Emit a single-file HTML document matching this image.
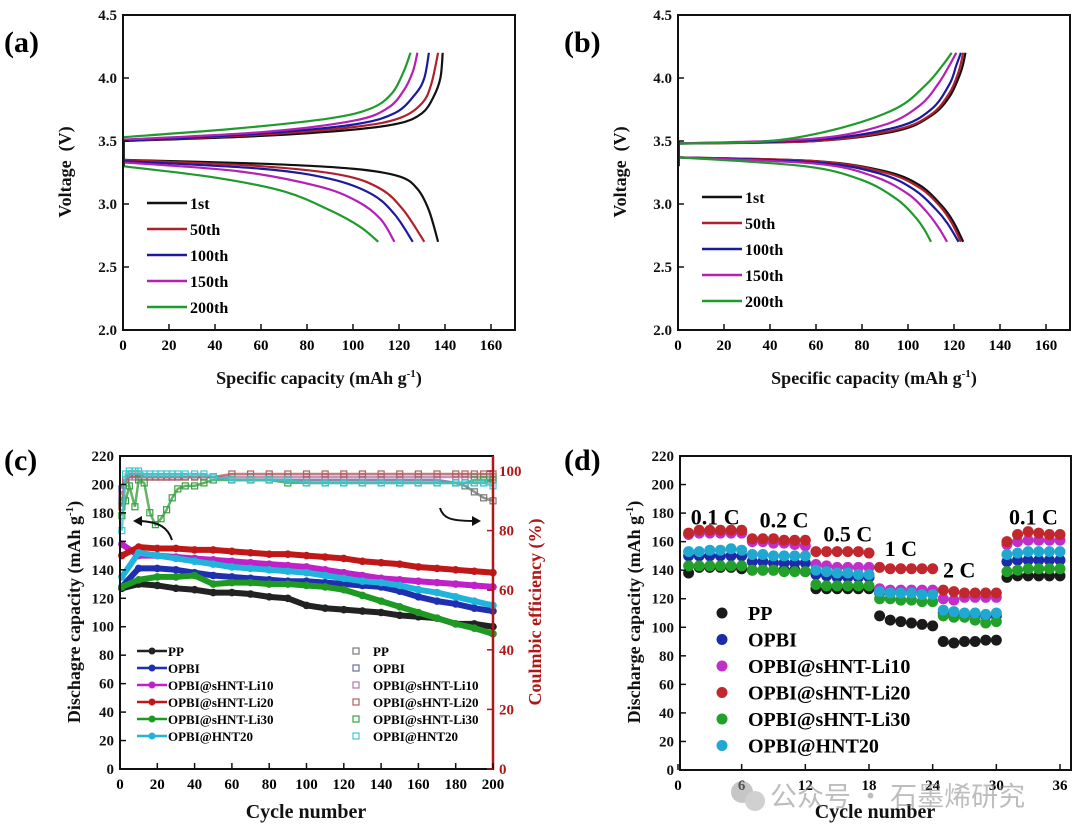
<!DOCTYPE html>
<html><head><meta charset="utf-8"><style>
body{margin:0;background:#fff;}
svg{display:block;font-family:"Liberation Serif","Noto Serif CJK SC",serif;font-weight:bold;}
</style></head><body>
<svg id="fig" width="1080" height="838" viewBox="0 0 1080 838" xmlns="http://www.w3.org/2000/svg">
<text x="4" y="52" font-size="30">(a)</text>
<text x="564" y="52" font-size="30">(b)</text>
<text x="4" y="470" font-size="30">(c)</text>
<text x="564" y="470" font-size="30">(d)</text>
<g id="ga"></g>
<g id="gb"></g>
<g id="gc"></g>
<g id="gd"></g>
<g opacity="0.55">
<circle cx="742" cy="792" r="11" fill="#999"/><circle cx="755" cy="801" r="10" fill="#aaa"/>
<text x="770" y="806" font-size="27" font-weight="normal" fill="#888" style='font-family:"Noto Sans CJK SC",sans-serif'>公众号 · 石墨烯研究</text>
</g>
</svg>
<script>
const NS="http://www.w3.org/2000/svg";
function mk(p,t,a){const e=document.createElementNS(NS,t);for(const k in a)e.setAttribute(k,a[k]);p.appendChild(e);return e;}
// ---------- data: panel a ----------
const aLabels=["1st","50th","100th","150th","200th"];
const aColors=["#111","#b0202a","#1a1a9e","#b420b4","#1f9a2c"];
const aCharge=[
[[0,3.50],[60,3.54],[100,3.59],[120,3.64],[130,3.72],[135,3.85],[138,4.0],[139,4.2]],
[[0,3.50],[60,3.55],[100,3.61],[120,3.68],[130,3.80],[134,3.95],[137,4.2]],
[[0,3.50],[60,3.56],[100,3.63],[118,3.72],[127,3.87],[131,4.0],[133,4.2]],
[[0,3.51],[60,3.57],[100,3.66],[115,3.76],[122,3.9],[126,4.05],[128,4.2]],
[[0,3.53],[50,3.60],[90,3.68],[108,3.76],[117,3.88],[122,4.05],[125,4.2]]];
const aDis=[
[[0,3.35],[60,3.32],[100,3.28],[120,3.22],[128,3.12],[133,2.95],[137,2.7]],
[[0,3.35],[60,3.30],[95,3.23],[112,3.12],[122,2.95],[131,2.7]],
[[0,3.34],[60,3.28],[90,3.20],[108,3.08],[118,2.92],[126,2.7]],
[[0,3.33],[50,3.26],[85,3.14],[102,3.02],[112,2.88],[118,2.7]],
[[0,3.30],[40,3.21],[70,3.10],[90,2.95],[103,2.82],[111,2.7]]];
// ---------- data: panel b ----------
const bCharge=[
[[0,3.48],[60,3.50],[95,3.58],[110,3.70],[118,3.85],[123,4.05],[125,4.2]],
[[0,3.48],[60,3.50],[95,3.59],[110,3.71],[118,3.88],[122,4.05],[124,4.2]],
[[0,3.48],[60,3.51],[95,3.61],[110,3.75],[118,3.95],[121,4.1],[123,4.2]],
[[0,3.48],[60,3.52],[90,3.63],[105,3.78],[113,3.95],[118,4.1],[121,4.2]],
[[0,3.48],[40,3.50],[70,3.60],[95,3.76],[108,3.95],[115,4.1],[119,4.2]]];
const bDis=[
[[0,3.37],[60,3.34],[90,3.26],[105,3.15],[115,2.98],[120,2.85],[124,2.7]],
[[0,3.37],[60,3.34],[90,3.25],[105,3.13],[114,2.98],[119,2.85],[123,2.7]],
[[0,3.37],[60,3.33],[88,3.24],[103,3.11],[112,2.96],[117,2.85],[122,2.7]],
[[0,3.37],[60,3.32],[85,3.22],[100,3.08],[108,2.94],[113,2.82],[117,2.7]],
[[0,3.37],[55,3.30],[80,3.19],[95,3.04],[103,2.9],[107,2.8],[110,2.7]]];
const abXTicks=[0,20,40,60,80,100,120,140,160];
const abYTicks=["2.0","2.5","3.0","3.5","4.0","4.5"];
// ---------- data: panel c ----------
const cCycles=[1,10,20,30,40,50,60,70,80,90,100,110,120,130,140,150,160,170,180,190,200];
const cNames=["PP","OPBI","OPBI@sHNT-Li10","OPBI@sHNT-Li20","OPBI@sHNT-Li30","OPBI@HNT20"];
const cColors=["#222","#1f2fb0","#c020c8","#c01818","#1e9a22","#20b4dc"];
const cPP=[127,130,129,127,126,124,124,123,121,120,115,113,112,111,110,108,107,106,102,102,100];
const cOPBI=[128,141,141,140,138,136,135,134,133,132,132,131,130,129,128,125,121,118,116,113,111];
const cLi10=[158,150,150,149,148,147,146,145,144,143,142,140,138,136,134,133,132,131,130,129,128];
const cLi20=[150,156,155,155,154,154,153,152,151,151,150,149,148,146,145,144,142,141,140,139,138];
const cLi30=[128,133,135,135,136,130,131,131,130,130,129,128,126,122,118,114,110,106,102,99,95];
const cHNT=[135,152,150,148,146,144,142,141,140,139,138,136,134,132,131,129,126,124,121,118,115];
const ceCycles=[1,3,5,8,10,13,16,19,22,25,28,31,35,40,45,50,60,70,80,90,100,110,120,130,140,150,160,170,180,185,190,195,200];
const cePP=[90,96,99,99,98,98,98,98,98,98,98,98,98,98,98,98,97,97,97,97,96,96,96,96,96,96,96,96,96,95,93,91,90];
const ceOPBI=[94,97,98,98,98,98,98,98,98,98,98,98,98,98,98,98,97,97,97,97,97,97,97,97,97,97,97,97,96,96,96,96,97];
const ceLi10=[92,96,98,98,98,98,98,98,98,98,98,98,98,98,98,98,98,98,98,98,98,98,98,98,98,98,98,98,98,98,98,98,98];
const ceLi20=[88,97,99,99,99,98,98,98,98,98,98,98,98,98,98,98,99,99,99,99,99,99,99,99,99,99,99,99,99,99,99,99,99];
const ceLi30=[85,90,95,88,97,96,86,82,84,87,91,94,95,95,96,97,97,97,97,96,96,96,96,96,96,96,96,96,96,96,97,97,97];
const ceHNT=[80,99,100,100,100,99,99,99,99,99,99,99,99,99,99,98,97,97,97,97,96,96,96,96,96,96,96,96,96,96,96,96,95];
const cXTicks=[0,20,40,60,80,100,120,140,160,180,200];
const cYTicks=[0,20,40,60,80,100,120,140,160,180,200,220];
const cY2Ticks=[0,20,40,60,80,100];
// ---------- data: panel d ----------
const dPP=[138,142,142,142,142,141,140,140,140,140,140,139,127,127,127,127,127,127,108,105,104,103,102,101,90,89,90,90,91,91,135,136,136,136,136,136];
const dOPBI=[150,150,150,150,150,150,146,146,145,145,145,145,137,136,135,135,135,135,124,124,124,124,124,124,110,110,109,109,108,108,146,147,147,147,147,147];
const dLi10=[165,166,166,166,166,166,160,160,159,159,158,157,144,143,142,142,142,142,127,126,126,126,126,126,120,119,121,121,121,121,158,160,161,161,161,161];
const dLi20=[166,168,168,168,168,168,162,162,162,161,161,161,153,153,153,153,153,152,142,141,141,141,141,141,126,125,124,124,124,124,160,165,167,166,165,165];
const dLi30=[143,143,143,143,143,143,140,140,140,139,139,139,130,129,129,129,129,129,120,120,119,119,118,118,108,107,107,105,103,104,139,140,141,141,141,141];
const dHNT=[153,153,154,154,155,154,151,151,150,150,150,150,140,139,138,138,137,137,125,124,124,124,123,123,112,111,110,110,109,110,151,152,153,153,153,153];
const dColors=["#1a1a1a","#1c2ca8","#c030c8","#c0282e","#22a02a","#20a8d0"];
const dXTicks=[0,6,12,18,24,30,36];
const dRates=["0.1 C","0.2 C","0.5 C","1 C","2 C","0.1 C"];
const dRateX=[3.5,10,16,21,26.5,33.5];
const dRateY=[172,170,160,150,135,172];

function lin(d0,d1,r0,r1){return v=>r0+(v-d0)*(r1-r0)/(d1-d0);}
function smooth(pts){let d="M"+pts[0][0]+","+pts[0][1];for(let i=0;i<pts.length-1;i++){const p0=pts[i-1]||pts[i],p1=pts[i],p2=pts[i+1],p3=pts[i+2]||p2;const c1=[p1[0]+(p2[0]-p0[0])/6,p1[1]+(p2[1]-p0[1])/6],c2=[p2[0]-(p3[0]-p1[0])/6,p2[1]-(p3[1]-p1[1])/6];d+=` C${c1[0]},${c1[1]} ${c2[0]},${c2[1]} ${p2[0]},${p2[1]}`;}return d;}
function box(g,x0,y0,x1,y1){const r=mk(g,"rect",{x:x0,y:y0,width:x1-x0,height:y1-y0,fill:"none",stroke:"#111","stroke-width":2});}
function xTicks(g,ticks,X,y,labels){ticks.forEach((t,i)=>{mk(g,"line",{x1:X(t),x2:X(t),y1:y,y2:y-6,stroke:"#111","stroke-width":1.5});const tx=mk(g,"text",{x:X(t),y:y+20,"font-size":15,"text-anchor":"middle"});tx.textContent=labels?labels[i]:t;});}
function yTicks(g,ticks,Y,x,labels,col,right){ticks.forEach((t,i)=>{const v=+t;mk(g,"line",{x1:x,x2:right?x-6:x+6,y1:Y(v),y2:Y(v),stroke:col||"#111","stroke-width":1.5});const tx=mk(g,"text",{x:right?x+6:x-6,y:Y(v)+5,"font-size":15,"text-anchor":right?"start":"end",fill:col||"#111"});tx.textContent=labels?labels[i]:t;});}
function title(g,txt,x,y,rot,size,col,name){const t=mk(g,"text",{x:x,y:y,"font-size":size,"text-anchor":"middle",fill:col||"#111"});if(rot)t.setAttribute("transform",`rotate(-90 ${x} ${y})`);t.innerHTML=txt;}

// ---------- panels a,b ----------
function voltPanel(g,ox,charge,dis,legY){
 const X=lin(0,160,ox,ox+368),Y=lin(2,4.5,330,15);
 charge.forEach((c,i)=>{const p=mk(g,"path",{d:smooth(c.map(q=>[X(q[0]),Y(q[1])])),fill:"none",stroke:aColors[i],"stroke-width":2.2});});
 dis.forEach((c,i)=>{const p=mk(g,"path",{d:smooth(c.map(q=>[X(q[0]),Y(q[1])])),fill:"none",stroke:aColors[i],"stroke-width":2.2});});
 mk(g,"line",{x1:X(0)+1,x2:X(0)+1,y1:Y(3.3),y2:Y(3.5),stroke:"#333","stroke-width":2});
 box(g,ox,15,ox+392,330);
 xTicks(g,abXTicks,X,330);
 yTicks(g,abYTicks,Y,ox,null);
 aLabels.forEach((l,i)=>{const y=legY+i*26;mk(g,"line",{x1:ox+24,x2:ox+64,y1:y,y2:y,stroke:aColors[i],"stroke-width":2.5});const t=mk(g,"text",{x:ox+67,y:y+6,"font-size":16});t.textContent=l;});
 title(g,'Voltage&#160; (V)',ox-52,172,true,18,null,'y-axis-title');
 title(g,'Specific capacity (mAh g<tspan dy="-7" font-size="11">-1</tspan><tspan dy="7">)</tspan>',ox+196,384,false,18,null,'x-axis-title');
}
voltPanel(document.getElementById("ga"),123,aCharge,aDis,203);
voltPanel(document.getElementById("gb"),678,bCharge,bDis,197);

// ---------- panel c ----------
(function(){const g=document.getElementById("gc");
 const X=lin(0,200,120,493),Y=lin(0,220,769,456),Y2=lin(0,100,769,471);
 const ceSeries=[cePP,ceOPBI,ceLi10,ceLi20,ceLi30,ceHNT];
 const ceCol=["#777","#6a6aa0","#b07ab0","#b06060","#3aa040","#40c8d0"];
 ceSeries.forEach((s,k)=>{const pts=s.map((v,i)=>X(ceCycles[i])+","+Y2(v)).join(" ");const pl=mk(g,"polyline",{points:pts,fill:"none",stroke:ceCol[k],"stroke-width":2.5,opacity:0.8});
  s.forEach((v,i)=>{const r=mk(g,"rect",{x:X(ceCycles[i])-3,y:Y2(v)-3,width:6,height:6,fill:"none",stroke:ceCol[k],"stroke-width":1.2});});});
 const series=[cPP,cOPBI,cLi10,cLi20,cLi30,cHNT];
 series.forEach((s,k)=>{const pts=s.map((v,i)=>X(cCycles[i])+","+Y(v)).join(" ");const pl=mk(g,"polyline",{points:pts,fill:"none",stroke:cColors[k],"stroke-width":6});
  s.forEach((v,i)=>{const c=mk(g,"circle",{cx:X(cCycles[i]),cy:Y(v),r:3.8,fill:cColors[k]});});});
 mk(g,"path",{d:"M172,540 C168,528 160,522 140,521",fill:"none",stroke:"#111","stroke-width":2});
 mk(g,"path",{d:"M133,521 L142,516 L142,526 Z",fill:"#111"});
 mk(g,"path",{d:"M440,508 C443,518 450,521 474,521",fill:"none",stroke:"#111","stroke-width":2});
 mk(g,"path",{d:"M481,521 L472,516 L472,526 Z",fill:"#111"});
 mk(g,"rect",{x:120,y:456,width:373,height:313,fill:"none",stroke:"#111","stroke-width":2});
 mk(g,"line",{x1:493,x2:493,y1:456,y2:769,stroke:"#b01818","stroke-width":2.5});
 xTicks(g,cXTicks,X,769);
 yTicks(g,cYTicks,Y,120);
 yTicks(g,cY2Ticks,Y2,493,null,"#b01818",true);
 cNames.forEach((n,i)=>{const y=651+i*17;mk(g,"line",{x1:137,x2:167,y1:y,y2:y,stroke:cColors[i],"stroke-width":2.5});mk(g,"circle",{cx:152,cy:y,r:3.5,fill:cColors[i]});const t=mk(g,"text",{x:168,y:y+5,"font-size":13});t.textContent=n;
  mk(g,"rect",{x:353,y:y-3,width:6,height:6,fill:"none",stroke:ceCol[i],"stroke-width":1.2});const t2=mk(g,"text",{x:373,y:y+5,"font-size":13});t2.textContent=n;});
 title(g,'Dischagre capacity (mAh g<tspan dy="-7" font-size="11">-1</tspan><tspan dy="7">)</tspan>',80,612,true,18,null,'y-axis-title');
 title(g,'Coulmbic efficiency (%)',541,612,true,18,"#b01818",'y2-axis-title');
 title(g,'Cycle number',306,818,false,20,null,'x-axis-title');
})();

// ---------- panel d ----------
(function(){const g=document.getElementById("gd");
 const X=lin(0,36,678,1060),Y=lin(0,220,770,456);
 const series=[dPP,dOPBI,dLi10,dLi20,dLi30,dHNT];
 const names=["PP","OPBI","OPBI@sHNT-Li10","OPBI@sHNT-Li20","OPBI@sHNT-Li30","OPBI@HNT20"];
 series.forEach((s,k)=>{s.forEach((v,i)=>{const c=mk(g,"circle",{cx:X(i+1),cy:Y(v),r:5.5,fill:dColors[k]});});});
 mk(g,"rect",{x:680,y:456,width:391,height:314,fill:"none",stroke:"#111","stroke-width":2});
 xTicks(g,dXTicks,X,770);
 yTicks(g,cYTicks,Y,680);
 dRates.forEach((r,i)=>{const t=mk(g,"text",{x:X(dRateX[i]),y:Y(dRateY[i]),"font-size":22,"text-anchor":"middle"});t.textContent=r;});
 names.forEach((n,i)=>{const y=613+i*26.5;mk(g,"circle",{cx:722,cy:y,r:5.5,fill:dColors[i]});const t=mk(g,"text",{x:748,y:y+7,"font-size":20});t.textContent=n;});
 title(g,'Discharge capacity (mAh g<tspan dy="-7" font-size="11">-1</tspan><tspan dy="7">)</tspan>',640,612,true,18,null,'y-axis-title');
 title(g,'Cycle number',875,818,false,20,null,'x-axis-title');
})();
</script>
</body></html>
